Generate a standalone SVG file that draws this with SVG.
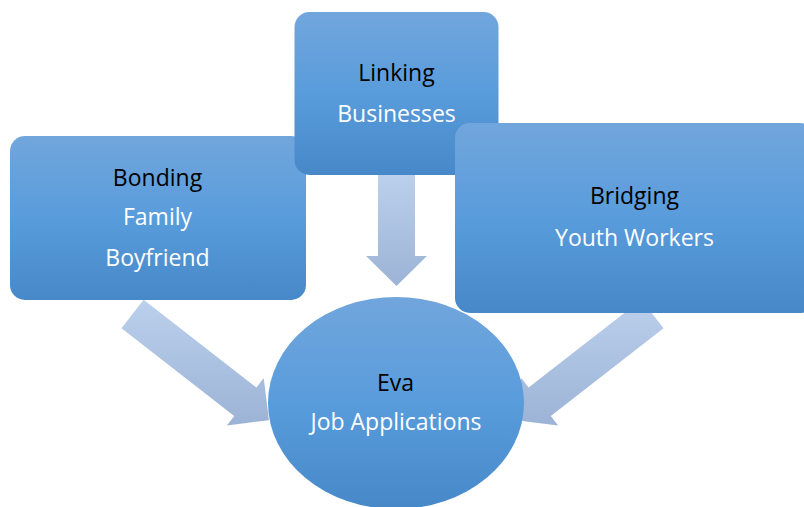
<svg xmlns="http://www.w3.org/2000/svg" width="804" height="507" viewBox="0 0 804 507">
<defs>
<linearGradient id="boxg" x1="0" y1="0" x2="0" y2="1">
<stop offset="0" stop-color="#71A6DC"/>
<stop offset="0.5" stop-color="#599CDC"/>
<stop offset="1" stop-color="#4688C8"/>
</linearGradient>
<linearGradient id="arrg" x1="0" y1="0" x2="0" y2="1">
<stop offset="0" stop-color="#BBD0EC"/>
<stop offset="1" stop-color="#9CB3D6"/>
</linearGradient>
<style>
.node{fill:url(#boxg);}
.arr{fill:url(#arrg);}
text{font-family:"Open Sans","Noto Sans","Liberation Sans",sans-serif;font-size:23px;text-anchor:middle;}
.t{fill:#000;}
.s{fill:#fff;}
</style>
</defs>
<g id="connectors">
<polygon class="arr" points="378,175 415,175 415,256 427,256 396.5,286 366,256 378,256"/>
<polygon class="arr" points="143.6,299.8 256.4,387.6 263.7,378.1 269,420.2 226.9,425.5 234.2,416 121.5,328.2"/>
<polygon class="arr" points="641.4,299.8 528.6,387.6 521.3,378.1 516,420.2 558.1,425.5 550.8,416 663.5,328.2"/>
</g>
<g id="bonding">
<rect class="node" x="10" y="136" width="296" height="164" rx="15"/>
<text class="t" x="157.5" y="186">Bonding</text>
<text class="s" x="157.5" y="225">Family</text>
<text class="s" x="157.5" y="265.5">Boyfriend</text>
</g>
<g id="linking">
<rect class="node" x="294.5" y="12" width="204" height="163" rx="15"/>
<text class="t" x="396.5" y="81">Linking</text>
<text class="s" x="396.5" y="122">Businesses</text>
</g>
<g id="bridging">
<rect class="node" x="455" y="123" width="360" height="190" rx="15"/>
<text class="t" x="634.5" y="204">Bridging</text>
<text class="s" x="634.5" y="245.5">Youth Workers</text>
</g>
<g id="eva">
<ellipse class="node" cx="396" cy="403" rx="128" ry="106"/>
<text class="t" x="395.5" y="391">Eva</text>
<text class="s" x="396" y="430">Job Applications</text>
</g>
</svg>
